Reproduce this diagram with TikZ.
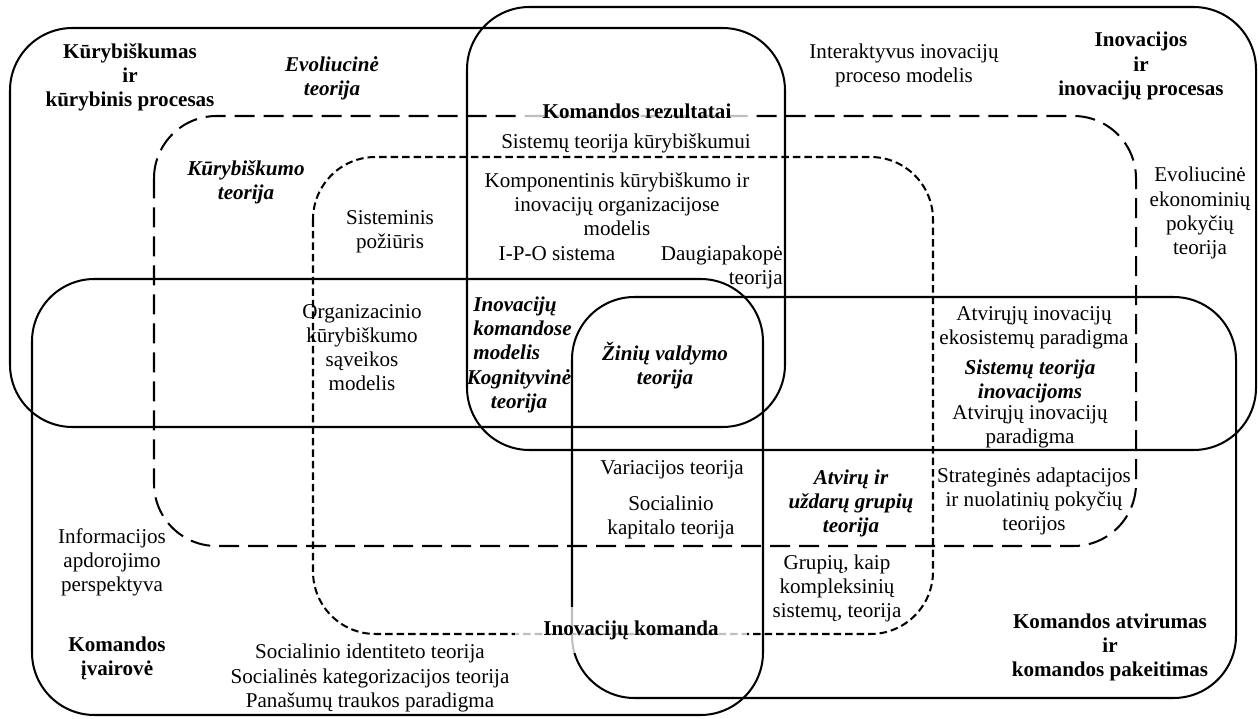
\documentclass[tikz,border=0pt]{standalone}
\usepackage{fontspec}
\setmainfont{Liberation Serif}
\usepackage{tikz}
\tikzset{ set_box/.style = {draw, line width=1.15pt, rounded corners=1.25cm} }
\tikzset{ long_dash/.style = {set_box, dash pattern=on 0.4cm off 0.18cm} }
\tikzset{ short_dash/.style = {set_box, dash pattern=on 0.15cm off 0.08cm} }
\tikzset{ txt/.style = {align=center, inner sep=0pt, font=\fontsize{12}{13.7}\selectfont} }
\tikzset{ head/.style = {txt, font=\fontsize{12}{13.7}\selectfont\bfseries} }
\tikzset{ theory/.style = {txt, font=\fontsize{12}{13.7}\selectfont\bfseries\itshape} }
\tikzset{ out_label/.style = {head, fill=white, fill opacity=0.75, text opacity=1, minimum width=4.66cm, minimum height=0.92cm} }

\begin{document}
\begin{tikzpicture}[x=0.02cm, y=-0.02cm]
            \useasboundingbox (0,0) rectangle (1258,719);
                    % the four sets
                    \draw[set_box] (10,28) rectangle (785,427);
                    \draw[set_box] (467,7) rectangle (1256,450);
                    \draw[set_box] (32,279) rectangle (763,715);
                    \draw[set_box] (572,297) rectangle (1236,698);
                    % dashed sets
                    \draw[long_dash] (154,116) rectangle (1136,546);
                    \draw[short_dash] (313,157) rectangle (933,634);
                    % set titles
                    \node[head] (kur) at (130,77) {Kūrybiškumas\\ir\\kūrybinis procesas};
                    \node[head] (ino) at (1141,66) {Inovacijos\\ir\\inovacijų procesas};
                    \node[head] (ivair) at (117,658) {Komandos\\įvairovė};
                    \node[head] (atvir) at (1110,647) {Komandos atvirumas\\ir\\komandos pakeitimas};
                    \node[out_label] (rez) at (637,111) {Komandos rezultatai};
                    \node[out_label] (ikom) at (631,630) {Inovacijų komanda};
                    % theories
                    \node[theory] (evo) at (332,78) {Evoliucinė\\teorija};
                    \node[theory] (kurt) at (246,182) {Kūrybiškumo\\teorija};
                    \node[txt] (sist_kur) at (626,143) {Sistemų teorija kūrybiškumui};
                    \node[txt] (komp) at (617,204) {Komponentinis kūrybiškumo ir\\inovacijų organizacijose\\modelis};
                    \node[txt] (sist_poz) at (390,232) {Sisteminis\\požiūris};
                    \node[txt] (ipo) at (557,254) {I-P-O sistema};
                    \node[txt, align=right, anchor=east] (daug) at (783,267) {Daugiapakopė\\teorija};
                    \node[txt] (org) at (362,348) {Organizacinio\\kūrybiškumo\\sąveikos\\modelis};
                    \node[theory, align=left, anchor=west] (ino_mod) at (473,328) {Inovacijų\\komandose\\modelis};
                    \node[theory] (kogn) at (519,391) {Kognityvinė\\teorija};
                    \node[theory] (zin) at (665,366) {Žinių valdymo\\teorija};
                    \node[txt] (var) at (672,470) {Variacijos teorija};
                    \node[txt] (soc_kap) at (671,517) {Socialinio\\kapitalo teorija};
                    \node[theory] (atv_gr) at (851,503) {Atvirų ir\\uždarų grupių\\teorija};
                    \node[txt] (grup) at (837,588) {Grupių, kaip\\kompleksinių\\sistemų, teorija};
                    \node[txt] (atv_eko) at (1034,328) {Atvirųjų inovacijų\\ekosistemų paradigma};
                    \node[theory] (sist_ino) at (1030,381) {Sistemų teorija\\inovacijoms};
                    \node[txt] (atv_par) at (1030,427) {Atvirųjų inovacijų\\paradigma};
                    \node[txt] (strat) at (1034,501) {Strateginės adaptacijos\\ir nuolatinių pokyčių\\teorijos};
                    \node[txt] (inter) at (904,65) {Interaktyvus inovacijų\\proceso modelis};
                    \node[txt] (evo_ek) at (1200,213) {Evoliucinė\\ekonominių\\pokyčių\\teorija};
                    \node[txt] (info) at (112,562) {Informacijos\\apdorojimo\\perspektyva};
                    \node[txt] (soc_id) at (370,678) {Socialinio identiteto teorija\\Socialinės kategorizacijos teorija\\Panašumų traukos paradigma};
            \end{tikzpicture}
\end{document}
